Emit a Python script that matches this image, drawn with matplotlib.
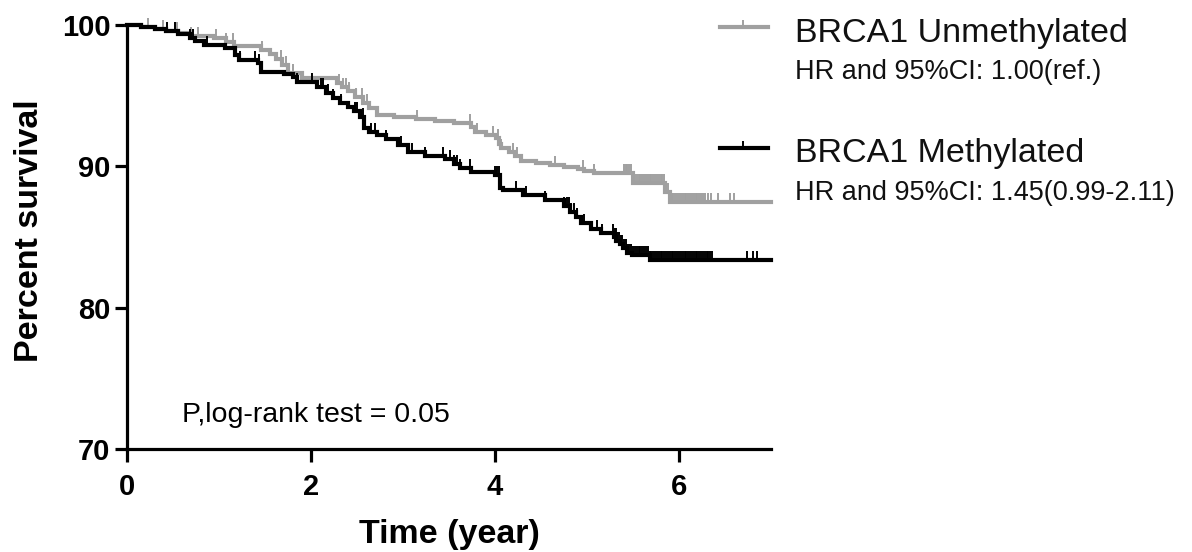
import numpy as np
import matplotlib
matplotlib.use("Agg")
import matplotlib.pyplot as plt
from matplotlib.path import Path
from matplotlib.lines import Line2D

plt.rcParams['font.family'] = ['Liberation Sans', 'DejaVu Sans']

# ---------------- data ----------------
end_time = 7.0

unmeth_label = "BRCA1 Unmethylated"
unmeth_hr = "HR and 95%CI: 1.00(ref.)"
unmeth_t = [0, 0.15, 0.30, 0.42, 0.55, 0.70, 0.95, 1.08, 1.16, 1.46, 1.55, 1.62, 1.69, 1.75,
            1.90, 2.28, 2.34, 2.40, 2.48, 2.56, 2.63, 2.72, 2.90, 3.14, 3.35, 3.55, 3.74, 3.78,
            3.90, 4.01, 4.04, 4.07, 4.15, 4.22, 4.28, 4.45, 4.60, 4.75, 4.90, 4.97, 5.08, 5.50,
            5.85, 5.90]
unmeth_s = [100, 99.85, 99.7, 99.55, 99.4, 99.25, 99.05, 98.8, 98.5, 98.25, 97.95, 97.6, 97.2,
            96.6, 96.25, 95.9, 95.6, 95.3, 94.9, 94.5, 94.1, 93.6, 93.5, 93.35, 93.2, 93.1, 92.8,
            92.45, 92.25, 92.0, 91.6, 91.3, 91.0, 90.7, 90.4, 90.25, 90.1, 89.95, 89.8, 89.7,
            89.5, 88.8, 88.2, 87.5]
unmeth_cens = [0.23, 0.39, 0.54, 0.70, 0.77, 0.97, 1.08, 1.15, 1.47, 1.67, 1.73, 1.80, 2.30,
               2.35, 2.38, 2.41, 2.49, 2.55, 2.61, 2.73, 3.15, 3.73, 3.80, 3.98, 4.03, 4.07,
               4.20, 4.24, 4.65, 4.96, 5.08,
               5.40, 5.42, 5.44, 5.46, 5.48,
               5.50, 5.52, 5.54, 5.56, 5.58, 5.60, 5.62, 5.64, 5.66, 5.68, 5.70, 5.72, 5.74,
               5.76, 5.78, 5.80, 5.82, 5.84, 5.86, 5.88,
               5.90, 5.92, 5.94, 5.96, 5.98, 6.00, 6.02, 6.04, 6.06, 6.08, 6.10, 6.12, 6.14,
               6.16, 6.18, 6.20, 6.22, 6.24, 6.26, 6.28, 6.32, 6.35,
               6.42, 6.55, 6.60]

meth_label = "BRCA1 Methylated"
meth_hr = "HR and 95%CI: 1.45(0.99-2.11)"
meth_t = [0, 0.15, 0.30, 0.42, 0.55, 0.68, 0.74, 0.84, 1.06, 1.17, 1.22, 1.42, 1.46, 1.71,
          1.80, 1.85, 2.07, 2.16, 2.24, 2.31, 2.40, 2.47, 2.53, 2.58, 2.63, 2.72, 2.81, 2.95,
          3.05, 3.24, 3.46, 3.55, 3.62, 3.74, 4.00, 4.05, 4.09, 4.30, 4.54, 4.75, 4.82, 4.88,
          4.93, 5.04, 5.15, 5.29, 5.32, 5.36, 5.39, 5.44, 5.49, 5.68]
meth_s = [100, 99.85, 99.7, 99.55, 99.35, 99.1, 98.85, 98.6, 98.4, 97.9, 97.5, 97.3, 96.7,
          96.55, 96.3, 96.0, 95.6, 95.2, 94.8, 94.45, 94.2, 93.9, 93.5, 92.7, 92.4, 92.2,
          91.95, 91.5, 91.0, 90.75, 90.5, 90.2, 89.9, 89.6, 89.4, 88.5, 88.3, 88.0, 87.6,
          87.2, 86.8, 86.4, 86.0, 85.6, 85.25, 85.0, 84.7, 84.5, 84.2, 83.9, 83.7, 83.35]
meth_cens = [0.43, 0.52, 0.69, 0.72, 0.87, 1.17, 1.23, 1.39, 1.44, 1.85, 2.01, 2.11, 2.13,
             2.19, 2.24, 2.33, 2.48, 2.50, 2.57, 2.65, 2.70, 2.81, 2.98, 3.05, 3.10, 3.24,
             3.44, 3.51, 3.55, 3.59, 3.62, 3.73, 4.00, 4.02, 4.04, 4.06, 4.23, 4.34, 4.54,
             4.75, 4.78, 4.80, 4.83, 4.86, 4.89, 4.97, 5.11, 5.16, 5.28, 5.30, 5.31,
             5.33, 5.35, 5.37, 5.38, 5.40, 5.42, 5.44, 5.46, 5.48, 5.50, 5.52, 5.54, 5.56,
             5.58, 5.60, 5.62, 5.64, 5.66, 5.68, 5.70, 5.72, 5.74, 5.76, 5.78, 5.80, 5.82,
             5.84, 5.86, 5.88, 5.90, 5.92, 5.94, 5.96, 5.98, 6.00, 6.02, 6.04, 6.06, 6.08,
             6.10, 6.12, 6.14, 6.16, 6.18, 6.20, 6.22, 6.24, 6.26, 6.28, 6.30, 6.32, 6.34,
             6.36, 6.74, 6.80, 6.85]

x_ticks = [0, 2, 4, 6]
y_ticks = [70, 80, 90, 100]
x_title = "Time (year)"
y_title = "Percent survival"
p_text = "P,log-rank test = 0.05"

# ---------------- style ----------------
W, H = 1192, 552
GRAY = "#a0a0a0"
BLACK = "#000000"
LW = 3.0
tick_marker = Path([(0, 0), (0, 1)])
MS = 12.5

fig = plt.figure(figsize=(W / 100, H / 100), dpi=100)
L, R, T, B = 127, 771, 25, 449
ax = fig.add_axes([L / W, 1 - B / H, (R - L) / W, (B - T) / H])
ax.set_xlim(0, 7)
ax.set_ylim(70, 100)


def draw(times, surv, cens, color, z):
    tt = list(times) + [end_time]
    ss = list(surv) + [surv[-1]]
    ax.step(tt, ss, where='post', color=color, lw=LW, clip_on=False, zorder=z,
            solid_joinstyle='miter')
    idx = np.searchsorted(np.array(times), np.array(cens), side='right') - 1
    cy = np.array(surv)[idx]
    ax.plot(cens, cy, linestyle='none', marker=tick_marker, markersize=MS,
            markeredgewidth=1.4, color=color, clip_on=False, zorder=z)


draw(unmeth_t, unmeth_s, unmeth_cens, GRAY, 3)
draw(meth_t, meth_s, meth_cens, BLACK, 4)

for side in ['top', 'right']:
    ax.spines[side].set_visible(False)
for side in ['left', 'bottom']:
    ax.spines[side].set_linewidth(2.3)
ax.set_xticks(x_ticks)
ax.set_yticks(y_ticks)
ax.tick_params(axis='both', direction='out', length=9, width=2.3, labelsize=21)
ax.tick_params(axis='x', pad=8)
ax.tick_params(axis='y', pad=3)
for lab in ax.get_xticklabels() + ax.get_yticklabels():
    lab.set_fontweight('bold')

ax.set_xlabel(x_title, fontsize=24.5, fontweight='bold')
ax.set_ylabel(y_title, fontsize=24.5, fontweight='bold')
ax.xaxis.set_label_coords(0.5, -0.165)
ax.yaxis.set_label_coords(-0.128, 0.516)

ax.text(0.6, 71.9, p_text, fontsize=20.5, va='baseline', ha='left')


# ---------------- legend (figure pixel coords) ----------------
def fx(px):
    return px / W


def fy(py):
    return 1 - py / H


for color, ly, name, hr, nb, hb in [(GRAY, 27, unmeth_label, unmeth_hr, 42, 79),
                                    (BLACK, 148, meth_label, meth_hr, 162, 200)]:
    fig.add_artist(Line2D([fx(720), fx(768)], [fy(ly), fy(ly)], color=color, lw=LW,
                          transform=fig.transFigure))
    fig.add_artist(Line2D([fx(743)], [fy(ly)], color=color, marker=tick_marker,
                          markersize=MS * 0.85, markeredgewidth=1.4, linestyle='none',
                          transform=fig.transFigure))
    fig.text(fx(795), fy(nb), name, fontsize=24.5, va='baseline', ha='left', color='#111111')
    fig.text(fx(795), fy(hb), hr, fontsize=19.5, va='baseline', ha='left', color='#111111')

fig.savefig("out.png", dpi=100)
